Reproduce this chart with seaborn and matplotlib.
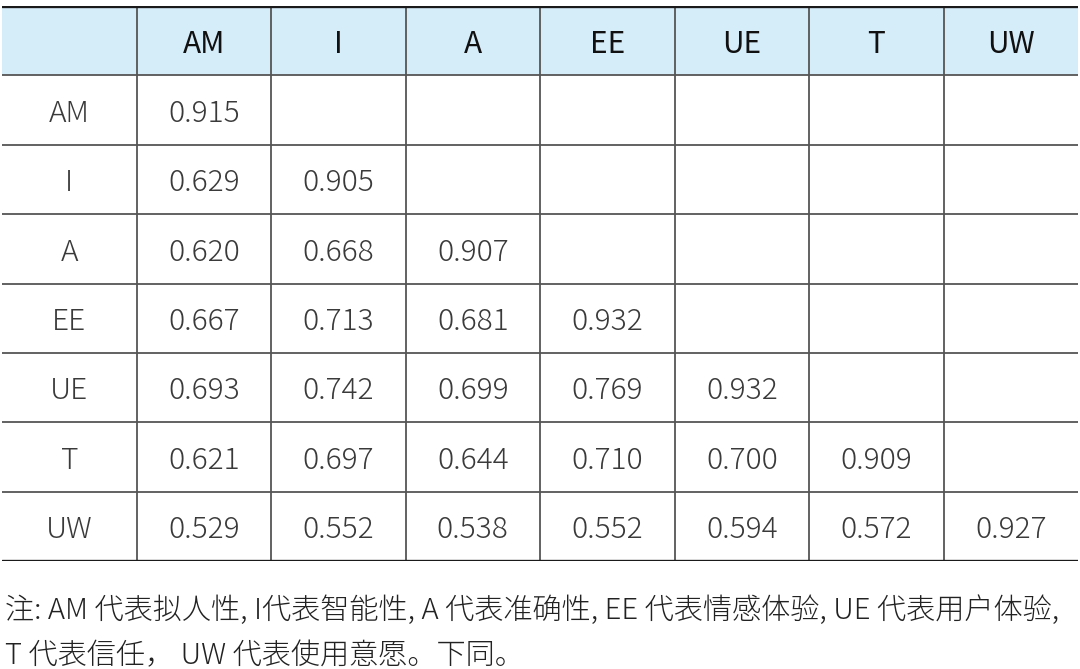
import numpy as np
import pandas as pd
import matplotlib
matplotlib.use("Agg")
import matplotlib.pyplot as plt
import seaborn as sns
from matplotlib.colors import ListedColormap

sns.set_theme(style="white")
# the Light weights of Noto Sans CJK are registered under the JP name
plt.rcParams['font.family'] = ['Noto Sans CJK JP', 'DejaVu Sans']

variables = ["AM", "I", "A", "EE", "UE", "T", "UW"]
row_am = [0.915]
row_i = [0.629, 0.905]
row_a = [0.620, 0.668, 0.907]
row_ee = [0.667, 0.713, 0.681, 0.932]
row_ue = [0.693, 0.742, 0.699, 0.769, 0.932]
row_t = [0.621, 0.697, 0.644, 0.710, 0.700, 0.909]
row_uw = [0.529, 0.552, 0.538, 0.552, 0.594, 0.572, 0.927]
rows = [row_am, row_i, row_a, row_ee, row_ue, row_t, row_uw]

note_line1 = "注: AM 代表拟人性, I代表智能性, A 代表准确性, EE 代表情感体验, UE 代表用户体验,"
note_line2 = "T 代表信任， UW 代表使用意愿。下同。"

# build the grid of cell labels (header row + row label column)
n = len(variables) + 1
labels = np.full((n, n), "", dtype=object)
labels[0, 1:] = variables
for i, (name, vals) in enumerate(zip(variables, rows), start=1):
    labels[i, 0] = name
    for j, v in enumerate(vals, start=1):
        labels[i, j] = f"{v:.3f}"

fill = np.zeros((n, n))
fill[0, :] = 1
fill_df = pd.DataFrame(fill)

fig = plt.figure(figsize=(10.8, 6.69), dpi=100)
ax = fig.add_axes([2 / 1080, 1 - 561 / 669, 1076 / 1080, 555 / 669])

sns.heatmap(fill_df, ax=ax, cmap=ListedColormap(["white", "#d5ecf9"]),
            cbar=False, annot=labels, fmt="",
            annot_kws={"fontsize": 21.5, "color": "#3a3a3a", "fontweight": 300,
                       "va": "center_baseline"})

for t in ax.texts:
    x, y = t.get_position()
    if y < 1:
        t.set_color("#111111")
        t.set_fontweight(400)
        t.set_fontsize(21.5)

ax.set_xticks([])
ax.set_yticks([])
for s in ax.spines.values():
    s.set_visible(False)

# inner grid lines
for k in range(1, n):
    ax.axhline(k, color="#555555", lw=1.3)
    ax.axvline(k, color="#555555", lw=1.3)
ax.axhline(0, color="#1a1a1a", lw=2.4)
ax.axhline(n, color="#1a1a1a", lw=2.4)

fig.text(5 / 1080, 1 - 607 / 669, note_line1, fontsize=21, color="#222222",
         va="center_baseline", ha="left", fontweight=300)
fig.text(5 / 1080, 1 - 652 / 669, note_line2, fontsize=21, color="#222222",
         va="center_baseline", ha="left", fontweight=300)

fig.savefig("out.png", dpi=100)
